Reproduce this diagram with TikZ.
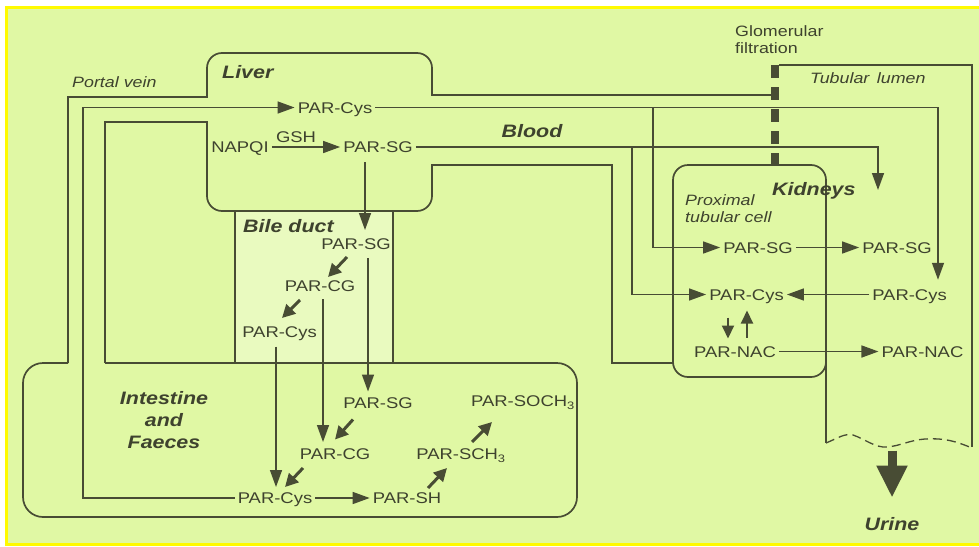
\documentclass[tikz,border=0pt]{standalone}
\usepackage{fontspec}
\setmainfont[FakeStretch=1.19]{Liberation Sans}
\usetikzlibrary{arrows.meta,calc}
\definecolor{bg}{RGB}{224,248,164}
\definecolor{ln}{RGB}{72,76,52}
\definecolor{tx}{RGB}{62,66,46}
\definecolor{yb}{RGB}{255,250,0}
\begin{document}
\begin{tikzpicture}[x=1pt,y=-1pt,
  wall/.style={draw=ln,line width=1.7pt},
  arr/.style={draw=ln,line width=1.5pt,-{Triangle[length=17pt,width=12pt]}},
  darr/.style={draw=ln,line width=3pt,-{Triangle[length=13pt,width=13pt]}},
  vv/.style={draw=ln,line width=2pt,-{Triangle[length=13pt,width=12pt]}},
  par/.style={text=tx,font=\fontsize{15.5}{17}\selectfont,inner sep=3pt,text height=11.1pt,text depth=0pt},
  lab/.style={text=tx,font=\fontsize{18}{22}\selectfont\bfseries\itshape,inner sep=0pt},
  sml/.style={text=tx,font=\fontsize{15}{17}\selectfont\itshape,inner sep=0pt,align=left},
]
\useasboundingbox (0,0) rectangle (979,546);
\fill[white] (0,0) rectangle (979,546);
\fill[yb] (5,6) rectangle (979,546);
\fill[bg] (8,9) rectangle (979,543);
\fill[bg!70!white] (235,211) rectangle (393,363);

% compartments
\draw[wall] (68,363) -- (68,97) -- (207,97) -- (207,75);
\draw[wall,rounded corners=15pt] (207,75) -- (207,53) -- (432,53) -- (432,75);
\draw[wall] (432,75) -- (432,95) -- (775,95);
\draw[wall] (105,363) -- (105,122) -- (207,122) -- (207,190);
\draw[wall,rounded corners=15pt] (207,190) -- (207,211) -- (432,211) -- (432,190);
\draw[wall] (432,190) -- (432,165) -- (612,165) -- (612,363) -- (673,363);
\draw[wall] (235,211) -- (235,363);
\draw[wall] (393,211) -- (393,363);
\draw[wall,rounded corners=20pt] (68,363) -- (23,363) -- (23,517) -- (577,517) -- (577,363) -- (540,363);
\draw[wall] (540,363) -- (105,363);
\draw[wall,rounded corners=15pt] (826,270) -- (826,377) -- (673,377) -- (673,165) -- (826,165) -- cycle;
\draw[wall] (826,300) -- (826,443);
\draw[wall] (779,65) -- (972,65) -- (972,447);
\draw[ln,line width=8pt,dash pattern=on 13pt off 9pt] (775,65) -- (775,166);
\draw[ln,line width=1.3pt,dash pattern=on 9pt off 5pt] (826,443) .. controls (838,438) and (845,433) .. (853,435) .. controls (865,439) and (875,448) .. (887,447) .. controls (900,446) and (910,440) .. (925,439) .. controls (945,438) and (955,441) .. (972,448);

% labels
\node[lab,anchor=base west] (liver) at (222,78) {Liver};
\node[sml,anchor=base west] (portal) at (72,87) {Portal vein};
\node[lab,anchor=base west] (bile) at (243,232) {Bile duct};
\node[lab,anchor=base] (blood) at (532,137) {Blood};
\node[lab,anchor=base,align=center] (intest) at (164,448) {Intestine\\and\\Faeces};
\node[lab,anchor=base west] (kidneys) at (772,195) {Kidneys};
\node[sml,anchor=base west] (prox) at (685,222.5) {Proximal\\tubular cell};
\node[sml,anchor=base west] (tub) at (810,83) {Tubular\hspace{0.5em}lumen};
\node[sml,anchor=base west,font=\fontsize{15}{17}\selectfont] (glom) at (735,53) {Glomerular\\filtration};
\node[lab,anchor=base] (urine) at (892,530) {Urine};
\node[text=tx,font=\fontsize{15.5}{17}\selectfont,anchor=base,inner sep=0pt] (gsh) at (296,142) {GSH};

% metabolites
\node[par] (liverCys) at (335,107.5) {PAR-Cys};
\node[par] (napqi) at (240,147) {NAPQI};
\node[par] (liverSG) at (378,147) {PAR-SG};
\node[par] (bileSG) at (356,244) {PAR-SG};
\node[par] (bileCG) at (320,286) {PAR-CG};
\node[par] (bileCys) at (279.5,331.5) {PAR-Cys};
\node[par] (intSG) at (378,402.5) {PAR-SG};
\node[par] (intCG) at (335,454) {PAR-CG};
\node[par] (intCys) at (275,498) {PAR-Cys};
\node[par] (intSH) at (407,498) {PAR-SH};
\node[par] (intSCH) at (461,454) {PAR-SCH\textsubscript{3}};
\node[par] (intSOCH) at (523,401) {PAR-SOCH\textsubscript{3}};
\node[par] (kSG) at (758,247.5) {PAR-SG};
\node[par] (kSGt) at (897,247.5) {PAR-SG};
\node[par] (kCys) at (746.5,294.5) {PAR-Cys};
\node[par] (kCyst) at (909.5,294.5) {PAR-Cys};
\node[par] (kNAC) at (735,351.5) {PAR-NAC};
\node[par] (kNACt) at (922.5,351.5) {PAR-NAC};

\coordinate (pv) at (83,107.5);
\coordinate (j1) at (653,107.5);
\coordinate (j2) at (632,147);
\coordinate (kid) at (878,190);

% connectors
\draw[arr] (intCys.west) -| (pv) -- (liverCys.west);
\draw[arr] (liverCys.east) -| ($(kCyst.north)+(28.5,-6)$);
\draw[arr] (j1) |- (kSG.west);
\draw[arr] (napqi.east) -- (liverSG.west);
\draw[arr] (liverSG.east) -| (kid);
\draw[arr] (j2) |- (kCys.west);
\draw[arr] ($(liverSG)+(-13,15)$) -- ($(bileSG)+(9,-14)$);
\draw[arr] ($(bileSG)+(12,14)$) -- ($(intSG)+(-10,-11)$);
\draw[arr] ($(bileCG)+(3,13)$) -- ($(intCG)+(-12,-12)$);
\draw[arr] ($(bileCys)+(-3.5,15)$) -- ($(intCys)+(1,-11)$);
\draw[darr] ($(bileSG)+(-9,13)$) -- ($(bileSG)+(-28,33)$);
\draw[darr] ($(bileCG)+(-20,14)$) -- ($(bileCG)+(-38,32)$);
\draw[darr] ($(intSG)+(-25,17)$) -- ($(intSG)+(-43,37)$);
\draw[darr] ($(intCG)+(-32,14)$) -- ($(intCG)+(-50,33)$);
\draw[darr] ($(intSH)+(21,-10)$) -- ($(intSH)+(40,-30)$);
\draw[darr] ($(intSCH)+(11,-12)$) -- ($(intSCH)+(31,-32)$);
\draw[arr] (intCys.east) -- (intSH.west);
\draw[arr] (kSG.east) -- (kSGt.west);
\draw[arr] (kCyst.west) -- (kCys.east);
\draw[arr] (kNAC.east) -- (kNACt.west);
\draw[vv] ($(kCys)+(-18.5,23)$) -- ($(kNAC)+(-7,-13)$);
\draw[vv] ($(kNAC)+(12,-14)$) -- ($(kCys)+(0.5,16)$);
\draw[ln,line width=9pt,-{Triangle[length=32pt,width=29pt]}] ($(urine)+(0,-73)$) -- ($(urine)+(0,-26)$);
\end{tikzpicture}
\end{document}
